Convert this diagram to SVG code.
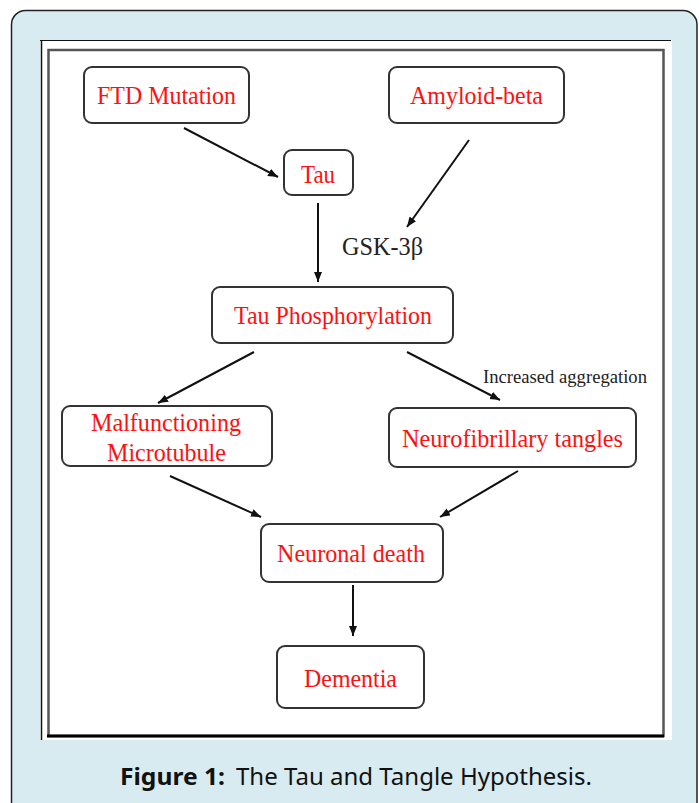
<svg xmlns="http://www.w3.org/2000/svg" width="699" height="803" viewBox="0 0 699 803">
<defs>
<marker id="ah" markerUnits="userSpaceOnUse" markerWidth="11" markerHeight="9" refX="10" refY="4" orient="auto">
<path d="M0,0 L10,4 L0,8 z" fill="#111"/>
</marker>
</defs>
<style>
.box{fill:#fff;stroke:#333;stroke-width:2}
.lbl{font-family:"Liberation Serif","Times New Roman",serif;font-size:26px;fill:#ff1010}
.note{font-family:"Liberation Serif","Times New Roman",serif;fill:#222}
.arr{stroke:#111;stroke-width:2;fill:none;marker-end:url(#ah)}
.cap{font-family:"Noto Sans","Open Sans",sans-serif;font-size:23px;fill:#111}
</style>
<rect x="11.5" y="10.5" width="685.5" height="820" rx="14" fill="#d8ebf0" stroke="#222" stroke-width="1.5"/>
<rect x="40" y="40" width="632" height="700" fill="#fff"/>
<line x1="40" y1="40.5" x2="671" y2="40.5" stroke="#111" stroke-width="1"/>
<line x1="41.5" y1="40" x2="41.5" y2="740" stroke="#111" stroke-width="1.5"/>
<rect x="48.5" y="50" width="615" height="686" fill="none" stroke="#555" stroke-width="2.5"/>
<line x1="47" y1="736" x2="664" y2="736" stroke="#000" stroke-width="3"/>

<g id="ftd"><rect class="box" x="84" y="67" width="165" height="56" rx="8"/><text class="lbl" x="97" y="104" textLength="139" lengthAdjust="spacingAndGlyphs">FTD Mutation</text></g>
<g id="amyloid"><rect class="box" x="389" y="67" width="175" height="56" rx="8"/><text class="lbl" x="410" y="104" textLength="133" lengthAdjust="spacingAndGlyphs">Amyloid-beta</text></g>
<g id="tau"><rect class="box" x="284" y="150" width="69" height="45" rx="8"/><text class="lbl" x="301" y="183" textLength="34" lengthAdjust="spacingAndGlyphs">Tau</text></g>
<g id="gsk"><text class="note" x="342" y="255" font-size="25" textLength="81" lengthAdjust="spacingAndGlyphs">GSK-3β</text></g>
<g id="tauphos"><rect class="box" x="212" y="287" width="241" height="56" rx="8"/><text class="lbl" x="234" y="324" textLength="198" lengthAdjust="spacingAndGlyphs">Tau Phosphorylation</text></g>
<g id="malf"><rect class="box" x="62" y="406" width="210" height="60" rx="8"/><text class="lbl" x="91" y="431" textLength="150" lengthAdjust="spacingAndGlyphs">Malfunctioning</text><text class="lbl" x="107" y="461" textLength="119" lengthAdjust="spacingAndGlyphs">Microtubule</text></g>
<g id="agg"><text class="note" x="483" y="383" font-size="19.5" fill="#333" textLength="164" lengthAdjust="spacingAndGlyphs">Increased aggregation</text></g>
<g id="nft"><rect class="box" x="389" y="408" width="247" height="59" rx="8"/><text class="lbl" x="402" y="447" textLength="221" lengthAdjust="spacingAndGlyphs">Neurofibrillary tangles</text></g>
<g id="death"><rect class="box" x="261" y="524" width="182" height="58" rx="8"/><text class="lbl" x="277" y="562" textLength="148" lengthAdjust="spacingAndGlyphs">Neuronal death</text></g>
<g id="dementia"><rect class="box" x="277" y="646" width="147" height="62" rx="8"/><text class="lbl" x="304" y="687" textLength="93" lengthAdjust="spacingAndGlyphs">Dementia</text></g>

<g id="connectors">
<line class="arr" x1="184" y1="128" x2="278" y2="177"/>
<line class="arr" x1="469" y1="140" x2="407" y2="227"/>
<line class="arr" x1="318" y1="203" x2="318" y2="282"/>
<line class="arr" x1="254" y1="352" x2="158" y2="403"/>
<line class="arr" x1="407" y1="352" x2="500" y2="400"/>
<line class="arr" x1="170" y1="476" x2="261" y2="517"/>
<line class="arr" x1="518" y1="471" x2="440" y2="517"/>
<line class="arr" x1="353" y1="585" x2="353" y2="636"/>
</g>

<g id="caption">
<text class="cap" x="120" y="785" font-weight="bold" textLength="105" lengthAdjust="spacingAndGlyphs">Figure 1:</text>
<text class="cap" x="236" y="785" textLength="356" lengthAdjust="spacingAndGlyphs">The Tau and Tangle Hypothesis.</text>
</g>
</svg>
